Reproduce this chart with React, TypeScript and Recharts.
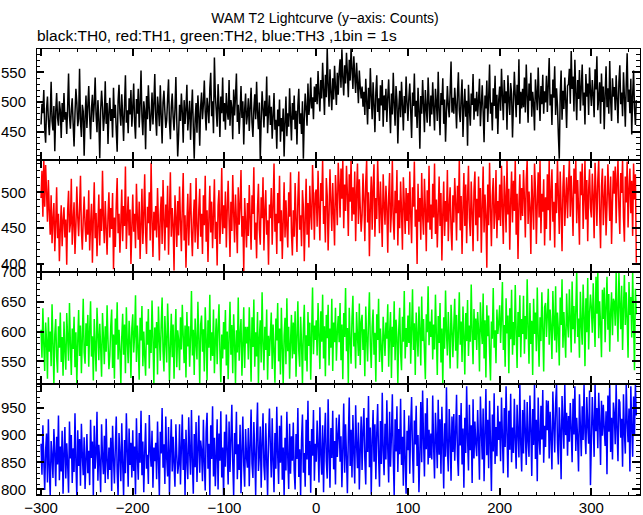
import { LineChart, Line, XAxis, YAxis } from 'recharts';

// 1 bin = 1 s, first bin at t = -300 s
const START_TIME = -300;

// TH0 (black), counts per bin
const TH0 = [
  462, 497, 481, 520, 455, 431, 488, 509, 470, 444, 479, 534, 468, 452, 493, 417, 484, 515, 473, 460, 501, 486, 439, 498, 466,
  515, 470, 483, 446, 492, 548, 476, 455, 487, 506, 463, 425, 480, 522, 499, 459, 472, 556, 467, 441, 495, 484, 409, 474, 511,
  456, 493, 527, 475, 437, 489, 512, 466, 496, 541, 478, 449, 503, 470, 405, 486, 519, 492, 451, 475, 535, 463, 498, 429, 483,
  507, 468, 488, 440, 524, 473, 495, 452, 416, 501, 529, 481, 460, 513, 476, 434, 494, 545, 465, 486, 447, 506, 479, 520, 458,
  490, 531, 466, 438, 505, 480, 522, 457, 495, 553, 474, 444, 501, 485, 420, 510, 471, 528, 489, 451, 478, 516, 462, 497, 547,
  473, 443, 509, 490, 459, 528, 477, 430, 499, 519, 484, 456, 469, 506, 538, 465, 437, 492, 514, 475, 452, 487, 542, 467, 408,
  445, 495, 468, 514, 483, 431, 503, 463, 488, 529, 452, 477, 502, 436, 484, 521, 458, 404, 471, 498, 448, 511, 480, 426, 492,
  516, 471, 496, 536, 482, 452, 507, 490, 464, 522, 549, 476, 501, 447, 575, 512, 485, 458, 530, 493, 441, 509, 481, 541, 467,
  498, 453, 515, 484, 470, 537, 460, 503, 490, 437, 521, 477, 509, 548, 466, 495, 446, 482, 527, 473, 501, 428, 487, 514, 462,
  478, 506, 451, 492, 524, 465, 441, 488, 513, 471, 534, 482, 454, 499, 403, 469, 518, 489, 457, 502, 476, 543, 447, 485, 511,
  461, 492, 438, 477, 515, 453, 470, 421, 487, 459, 504, 433, 473, 450, 489, 408, 466, 509, 442, 481, 458, 523, 475, 435, 498,
  470, 511, 454, 485, 428, 494, 522, 463, 481, 446, 501, 404, 474, 514, 487, 460, 531, 478, 497, 541, 489, 508, 471, 526, 500,
  530, 496, 552, 513, 484, 537, 506, 566, 521, 478, 546, 508, 591, 527, 492, 555, 516, 486, 540, 504, 561, 523, 495, 549, 512,
  550, 572, 524, 589, 541, 511, 562, 531, 583, 549, 508, 571, 536, 591, 556, 522, 577, 544, 515, 566, 533, 498, 553, 525, 506,
  526, 492, 517, 478, 539, 501, 462, 524, 488, 557, 509, 471, 533, 496, 449, 516, 545, 483, 506, 468, 528, 494, 537, 458, 511,
  486, 522, 466, 508, 538, 490, 447, 514, 479, 549, 497, 460, 527, 503, 430, 489, 519, 474, 534, 495, 452, 510, 481, 543, 499,
  468, 507, 531, 485, 439, 516, 493, 548, 475, 502, 456, 524, 488, 421, 510, 480, 537, 496, 449, 520, 489, 465, 541, 500, 459,
  511, 479, 533, 491, 452, 522, 499, 468, 551, 486, 444, 515, 495, 540, 463, 504, 433, 484, 527, 494, 474, 517, 568, 482, 507,
  480, 524, 497, 455, 513, 550, 485, 466, 507, 538, 441, 492, 522, 475, 502, 426, 529, 488, 460, 514, 495, 547, 470, 506, 484,
  517, 476, 503, 539, 459, 494, 528, 484, 432, 511, 489, 536, 466, 506, 563, 480, 499, 452, 523, 493, 544, 472, 512, 446, 504,
  526, 485, 556, 510, 469, 537, 498, 518, 453, 545, 504, 478, 532, 514, 440, 496, 551, 511, 474, 529, 495, 572, 463, 517, 489,
  522, 491, 541, 482, 563, 510, 465, 531, 502, 549, 475, 517, 497, 452, 538, 513, 486, 558, 507, 468, 527, 496, 546, 480, 518,
  499, 544, 483, 529, 574, 494, 513, 461, 538, 507, 560, 478, 523, 495, 445, 404, 511, 553, 470, 519, 488, 541, 503, 456, 527,
  530, 556, 497, 586, 522, 543, 484, 571, 515, 469, 537, 505, 554, 485, 524, 563, 494, 516, 462, 547, 509, 531, 478, 558, 518,
  493, 537, 513, 474, 555, 521, 577, 486, 507, 533, 463, 548, 500, 526, 454, 512, 560, 491, 523, 480, 569, 503, 468, 540, 509,
  525, 486, 545, 505, 464, 533, 562, 496, 516, 476, 550, 509, 458, 529, 582, 500, 521, 481, 539, 445, 512, 553, 489, 461, 503,
];

// TH1 (red)
const TH1 = [
  492, 530, 466, 545, 480, 538, 501, 459, 517, 474, 441, 496, 429, 463, 485, 418, 457, 507, 436, 470, 404, 449, 482, 425, 461,
  479, 437, 462, 399, 474, 502, 444, 456, 519, 427, 460, 486, 414, 452, 508, 466, 439, 478, 523, 447, 420, 463, 494, 455, 431,
  476, 441, 503, 419, 455, 484, 402, 464, 514, 436, 471, 411, 454, 497, 426, 477, 446, 530, 462, 429, 488, 451, 413, 467, 500,
  437, 478, 449, 499, 393, 465, 424, 484, 520, 443, 470, 416, 458, 504, 432, 481, 453, 536, 421, 463, 494, 440, 476, 400, 452,
  497, 445, 470, 422, 512, 464, 434, 487, 407, 455, 505, 428, 468, 525, 443, 414, 480, 457, 500, 433, 541, 461, 410, 473, 447,
  481, 437, 506, 457, 405, 469, 494, 428, 517, 462, 419, 483, 451, 509, 413, 472, 528, 438, 478, 455, 391, 496, 466, 424, 488,
  440, 508, 461, 418, 479, 527, 433, 468, 395, 456, 498, 426, 472, 513, 445, 411, 462, 490, 430, 520, 452, 421, 475, 505, 438,
  470, 414, 496, 454, 523, 431, 475, 403, 463, 509, 444, 487, 422, 468, 518, 435, 459, 398, 481, 503, 428, 464, 534, 442, 482,
  450, 501, 423, 476, 516, 461, 410, 487, 446, 524, 471, 430, 497, 460, 415, 507, 455, 480, 531, 438, 467, 390, 492, 458, 423,
  485, 439, 510, 465, 420, 496, 470, 535, 434, 458, 408, 478, 512, 448, 427, 493, 464, 521, 419, 474, 503, 441, 461, 399, 483,
  464, 506, 427, 481, 540, 445, 470, 414, 499, 457, 523, 432, 475, 407, 460, 514, 437, 489, 452, 423, 500, 466, 528, 444, 412,
  475, 438, 513, 462, 417, 490, 529, 448, 468, 425, 503, 480, 404, 461, 519, 441, 485, 423, 509, 470, 448, 538, 491, 434, 499,
  504, 452, 530, 478, 433, 513, 488, 545, 456, 481, 430, 520, 496, 419, 471, 532, 485, 446, 513, 470, 426, 524, 492, 454, 541,
  511, 465, 533, 491, 545, 450, 511, 474, 537, 498, 439, 525, 487, 545, 460, 507, 469, 529, 432, 499, 540, 456, 518, 479, 445,
  468, 526, 490, 432, 514, 545, 458, 500, 411, 481, 522, 448, 507, 539, 438, 492, 463, 545, 494, 443, 515, 473, 424, 525, 483,
  455, 509, 479, 416, 495, 527, 444, 473, 545, 462, 434, 502, 471, 531, 426, 489, 450, 515, 474, 420, 521, 485, 442, 506, 460,
  499, 441, 529, 470, 429, 507, 480, 543, 452, 476, 400, 512, 459, 492, 434, 527, 468, 441, 519, 477, 418, 503, 458, 537, 448,
  483, 435, 512, 465, 540, 442, 490, 423, 471, 522, 453, 499, 405, 470, 515, 439, 488, 459, 531, 432, 480, 507, 449, 419, 496,
  458, 520, 485, 433, 509, 471, 545, 447, 495, 414, 478, 527, 453, 511, 429, 491, 537, 464, 439, 515, 473, 418, 502, 529, 454,
  491, 432, 522, 465, 506, 416, 481, 536, 444, 497, 468, 395, 511, 454, 541, 477, 425, 495, 520, 449, 473, 531, 436, 488, 461,
  511, 453, 537, 479, 428, 523, 491, 444, 545, 469, 505, 420, 486, 529, 458, 516, 474, 545, 441, 498, 407, 482, 525, 461, 506,
  467, 531, 492, 437, 518, 545, 456, 501, 478, 414, 524, 485, 448, 540, 506, 428, 485, 528, 465, 545, 443, 498, 473, 518, 426,
  493, 449, 525, 475, 545, 433, 501, 532, 459, 487, 423, 513, 471, 545, 495, 442, 529, 479, 418, 507, 538, 453, 490, 521, 464,
  509, 545, 466, 523, 489, 439, 533, 498, 545, 457, 517, 478, 427, 529, 496, 540, 449, 490, 545, 462, 517, 432, 503, 532, 478,
  465, 526, 494, 436, 541, 501, 453, 517, 545, 473, 422, 508, 533, 454, 489, 523, 440, 480, 539, 497, 460, 522, 428, 486, 530,
  498, 536, 457, 516, 545, 478, 442, 527, 499, 545, 465, 431, 522, 486, 543, 451, 504, 533, 471, 516, 439, 540, 490, 525, 402,
];

// TH2 (green)
const TH2 = [
  603, 556, 639, 578, 534, 615, 586, 521, 624, 566, 600, 542, 646, 581, 512, 595, 621, 558, 531, 609, 573, 632, 549, 591, 526,
  617, 569, 536, 631, 590, 551, 648, 578, 527, 605, 571, 625, 540, 599, 512, 582, 636, 559, 610, 530, 588, 655, 565, 546, 614,
  576, 628, 541, 602, 651, 558, 592, 518, 621, 575, 533, 640, 598, 552, 613, 573, 524, 631, 591, 545, 609, 566, 644, 585, 537,
  560, 609, 637, 539, 595, 521, 622, 578, 649, 553, 603, 570, 512, 591, 630, 561, 612, 530, 641, 582, 547, 618, 587, 522, 606,
  629, 565, 593, 661, 549, 610, 574, 519, 623, 585, 643, 542, 600, 560, 526, 617, 578, 638, 538, 603, 564, 652, 589, 512, 607,
  572, 616, 528, 642, 589, 551, 612, 657, 567, 533, 626, 583, 548, 647, 597, 517, 576, 630, 557, 612, 521, 591, 638, 540, 602,
  585, 535, 624, 570, 645, 593, 547, 610, 523, 633, 575, 609, 541, 590, 668, 560, 603, 527, 622, 581, 553, 650, 589, 512, 612,
  627, 566, 604, 533, 641, 588, 518, 619, 573, 662, 551, 599, 559, 637, 530, 584, 622, 545, 606, 646, 568, 515, 595, 555, 616,
  570, 636, 543, 600, 520, 591, 650, 561, 611, 530, 629, 583, 512, 602, 565, 657, 551, 594, 621, 526, 578, 641, 539, 608, 580,
  608, 553, 641, 587, 516, 624, 574, 654, 541, 599, 558, 633, 512, 590, 619, 548, 666, 581, 535, 608, 569, 637, 519, 593, 559,
  594, 632, 537, 612, 567, 514, 622, 585, 648, 550, 605, 528, 640, 574, 512, 593, 623, 545, 656, 567, 608, 521, 582, 628, 555,
  615, 562, 634, 524, 591, 651, 567, 541, 625, 581, 512, 604, 645, 551, 594, 533, 633, 576, 615, 519, 598, 674, 562, 610, 586,
  619, 560, 648, 594, 537, 634, 583, 662, 555, 609, 525, 628, 589, 645, 543, 605, 573, 655, 534, 615, 582, 640, 551, 599, 626,
  582, 648, 552, 612, 520, 631, 591, 673, 567, 606, 512, 640, 586, 546, 622, 660, 575, 598, 538, 633, 592, 559, 647, 544, 616,
  628, 569, 604, 525, 642, 589, 550, 616, 666, 578, 539, 608, 637, 561, 598, 516, 629, 586, 655, 549, 605, 571, 532, 625, 593,
  559, 615, 588, 646, 541, 597, 633, 522, 608, 574, 651, 552, 620, 591, 512, 604, 640, 564, 535, 625, 583, 668, 555, 606, 574,
  627, 581, 649, 546, 603, 671, 569, 614, 527, 632, 593, 558, 642, 601, 543, 659, 584, 621, 566, 520, 629, 599, 676, 577, 617,
  591, 637, 553, 612, 570, 662, 595, 527, 626, 581, 648, 548, 605, 512, 624, 571, 669, 598, 560, 633, 589, 538, 645, 604, 557,
  609, 655, 568, 628, 538, 601, 666, 578, 617, 549, 642, 592, 528, 631, 584, 653, 559, 610, 583, 679, 599, 545, 638, 586, 622,
  569, 633, 603, 533, 649, 607, 579, 664, 555, 619, 523, 644, 592, 627, 564, 518, 617, 588, 673, 573, 602, 547, 637, 596, 614,
  644, 581, 624, 683, 569, 611, 541, 656, 597, 627, 530, 639, 587, 670, 561, 616, 577, 678, 602, 539, 633, 591, 661, 557, 621,
  596, 660, 563, 626, 587, 688, 607, 546, 648, 579, 618, 527, 655, 596, 632, 567, 674, 592, 541, 624, 584, 666, 605, 533, 641,
  648, 591, 629, 672, 578, 637, 607, 554, 668, 615, 585, 676, 565, 632, 603, 543, 657, 611, 688, 573, 633, 595, 556, 664, 614,
  590, 671, 620, 565, 684, 604, 643, 580, 636, 700, 591, 622, 556, 667, 611, 578, 679, 629, 542, 656, 599, 690, 570, 630, 662,
  639, 598, 681, 622, 574, 692, 630, 700, 589, 651, 612, 557, 670, 621, 674, 582, 641, 692, 603, 663, 566, 633, 666, 594, 655,
  650, 610, 700, 632, 583, 700, 646, 604, 677, 569, 640, 695, 611, 666, 622, 556, 683, 628, 658, 590, 700, 618, 535, 672, 629,
];

// TH3 (blue)
const TH3 = [
  884, 827, 918, 853, 799, 872, 903, 813, 929, 840, 788, 889, 862, 821, 911, 867, 806, 897, 846, 936, 817, 879, 833, 908, 792,
  866, 915, 820, 885, 847, 794, 925, 857, 900, 812, 876, 832, 940, 850, 788, 909, 843, 893, 807, 921, 863, 826, 896, 801, 855,
  902, 830, 871, 808, 928, 858, 888, 790, 917, 838, 866, 943, 816, 882, 849, 795, 920, 861, 828, 899, 812, 930, 853, 819, 877,
  836, 895, 797, 917, 857, 811, 880, 934, 832, 788, 904, 864, 815, 922, 848, 788, 891, 830, 940, 871, 805, 912, 845, 886, 822,
  909, 834, 879, 791, 931, 861, 818, 904, 849, 945, 826, 888, 795, 868, 922, 838, 864, 810, 937, 873, 842, 908, 803, 877, 852,
  886, 819, 925, 855, 788, 906, 866, 950, 840, 883, 810, 934, 858, 824, 915, 791, 872, 929, 833, 897, 847, 805, 920, 864, 829,
  846, 920, 809, 877, 938, 836, 893, 788, 910, 854, 819, 933, 869, 827, 946, 851, 792, 902, 841, 924, 814, 875, 936, 831, 890,
  872, 815, 928, 849, 798, 907, 941, 838, 884, 790, 918, 856, 953, 824, 895, 806, 862, 929, 800, 903, 853, 944, 822, 877, 788,
  906, 842, 938, 871, 809, 925, 832, 891, 956, 850, 788, 904, 865, 943, 819, 883, 836, 919, 793, 870, 934, 845, 805, 911, 860,
  840, 913, 806, 879, 947, 847, 821, 924, 868, 790, 901, 960, 834, 862, 916, 803, 886, 940, 843, 817, 922, 856, 788, 892, 949,
  880, 822, 931, 852, 795, 904, 838, 952, 864, 810, 917, 849, 936, 818, 877, 788, 895, 835, 943, 858, 801, 921, 829, 898, 853,
  923, 834, 800, 902, 856, 950, 823, 874, 790, 892, 938, 831, 867, 805, 928, 855, 963, 826, 889, 794, 911, 862, 946, 816, 884,
  851, 927, 880, 813, 951, 864, 827, 918, 795, 893, 941, 852, 820, 966, 870, 803, 913, 858, 945, 837, 889, 809, 932, 860, 900,
  938, 851, 898, 804, 876, 958, 831, 920, 862, 793, 896, 969, 843, 910, 822, 937, 867, 811, 955, 882, 839, 923, 800, 872, 934,
  836, 908, 950, 856, 809, 932, 869, 972, 841, 914, 791, 888, 946, 851, 920, 819, 903, 957, 861, 805, 926, 847, 978, 871, 826,
  921, 855, 964, 875, 813, 943, 842, 899, 975, 859, 790, 929, 870, 953, 832, 911, 865, 967, 845, 897, 807, 946, 856, 792, 908,
  872, 936, 829, 917, 970, 869, 812, 927, 883, 954, 843, 900, 795, 867, 961, 850, 982, 893, 824, 940, 874, 968, 846, 910, 858,
  903, 855, 973, 880, 820, 941, 895, 839, 965, 864, 929, 829, 952, 886, 802, 922, 860, 988, 876, 833, 948, 899, 816, 934, 869,
  939, 853, 905, 974, 863, 825, 937, 881, 959, 846, 912, 803, 932, 867, 990, 894, 835, 956, 872, 918, 812, 966, 857, 925, 884,
  861, 946, 889, 818, 971, 908, 855, 949, 815, 902, 985, 863, 928, 839, 963, 886, 797, 938, 870, 977, 847, 915, 861, 954, 891,
  925, 852, 969, 897, 830, 950, 878, 990, 901, 822, 945, 873, 976, 850, 914, 867, 967, 891, 838, 956, 903, 859, 994, 883, 833,
  946, 866, 965, 905, 845, 961, 889, 860, 973, 912, 825, 948, 882, 994, 856, 928, 815, 969, 894, 864, 954, 892, 983, 849, 917,
  878, 964, 909, 963, 857, 943, 895, 837, 980, 920, 868, 958, 994, 886, 846, 951, 908, 819, 972, 924, 875, 994, 900, 941, 862,
  935, 888, 959, 911, 850, 967, 901, 990, 871, 932, 894, 833, 975, 915, 861, 953, 891, 994, 905, 865, 970, 918, 884, 982, 808,
  890, 970, 920, 860, 994, 907, 950, 876, 978, 923, 845, 963, 899, 956, 912, 880, 944, 828, 973, 906, 994, 869, 932, 855, 960,
  939, 883, 994, 909, 852, 966, 960, 895, 930, 842, 975, 904, 866, 994, 925, 887, 949, 833, 990, 912, 860, 971, 899, 994, 936,
];

const X_TICKS = [
  -300, -280, -260, -240, -220, -200, -180, -160, -140, -120, -100, -80, -60, -40, -20,
  0, 20, 40, 60, 80, 100, 120, 140, 160, 180, 200, 220, 240, 260, 280, 300, 320, 340,
];
const Y_TICKS_TH0 = [410, 420, 430, 440, 450, 460, 470, 480, 490, 500, 510, 520, 530, 540, 550, 560, 570, 580, 590];
const Y_TICKS_TH1 = [390, 400, 410, 420, 430, 440, 450, 460, 470, 480, 490, 500, 510, 520, 530, 540];
const Y_TICKS_TH2 = [520, 530, 540, 550, 560, 570, 580, 590, 600, 610, 620, 630, 640, 650, 660, 670, 680, 690, 700];
const Y_TICKS_TH3 = [790, 800, 810, 820, 830, 840, 850, 860, 870, 880, 890, 900, 910, 920, 930, 940, 950, 960, 970, 980, 990];

const X_DOMAIN: [number, number] = [-305.5, 353];
const FONT = '"Liberation Sans", Arial, Helvetica, sans-serif';
const PLOT_TOP = 48;
const PLOT_LEFT = 36;
const PLOT_W = 605;
const PANEL_H = 112;
const PAD = 10;

const fmt = (v: number) => (v < 0 ? '\u2212' + Math.abs(v) : String(v));

// x ticks point inward (dir -1 = up from the bottom edge, +1 = down from the top edge)
const XTick = (props: any) => {
  const { x, y, payload, dir, label } = props;
  const major = payload.value % 100 === 0;
  const len = major ? 8 : 4;
  return (
    <g>
      <line x1={ x } y1={ y } x2={ x } y2={ y + dir * len } stroke="#000" strokeWidth={ major ? 2 : 1 } shapeRendering="crispEdges" />
      { label && major && (
        <text x={ x } y={ y + 17 } textAnchor="middle" fontFamily={ FONT } fontSize={ 15 } fill="#000">
          { fmt(payload.value) }
        </text>
      ) }
    </g>
  );
};

const YTick = (props: any) => {
  const { x, y, payload, dir, label } = props;
  const major = payload.value % 50 === 0;
  const len = major ? 8 : 4;
  return (
    <g>
      <line x1={ x } y1={ y } x2={ x + dir * len } y2={ y } stroke="#000" strokeWidth={ major ? 2 : 1 } shapeRendering="crispEdges" />
      { label && major && (
        <text x={ x - 10 } y={ y } dy="0.35em" textAnchor="end" fontFamily={ FONT } fontSize={ 15 } fill="#000">
          { fmt(payload.value) }
        </text>
      ) }
    </g>
  );
};

const Panel = ({
  values,
  color,
  domain,
  ticks,
  index,
  last,
}: {
  values: number[];
  color: string;
  domain: [number, number];
  ticks: number[];
  index: number;
  last: boolean;
}) => {
  const data = values.map((v, i) => ({ t: START_TIME + i, v }));
  const bottomH = last ? 19 : 1;
  return (
    <div style={ { position: 'absolute', left: 0, top: PLOT_TOP + index * PANEL_H - PAD } }>
      <LineChart
        width={ 643 }
        height={ PAD + PANEL_H + bottomH }
        data={ data }
        margin={ { top: PAD - 1, right: 2, bottom: 0, left: 0 } }
      >
        <XAxis
          xAxisId="b"
          dataKey="t"
          type="number"
          domain={ X_DOMAIN }
          ticks={ X_TICKS }
          interval={ 0 }
          height={ bottomH }
          tickSize={ 0 }
          tickMargin={ 0 }
          tickLine={ false }
          axisLine={ false }
          tick={ (p: any) => <XTick { ...p } dir={ -1 } label={ last } /> }
          allowDataOverflow
        />
        <XAxis
          xAxisId="t"
          orientation="top"
          dataKey="t"
          type="number"
          domain={ X_DOMAIN }
          ticks={ X_TICKS }
          interval={ 0 }
          height={ 1 }
          tickSize={ 0 }
          tickMargin={ 0 }
          tickLine={ false }
          axisLine={ false }
          tick={ (p: any) => <XTick { ...p } dir={ 1 } label={ false } /> }
          allowDataOverflow
        />
        <YAxis
          yAxisId="l"
          type="number"
          domain={ domain }
          ticks={ ticks }
          interval={ 0 }
          width={ PLOT_LEFT }
          tickSize={ 0 }
          tickMargin={ 0 }
          tickLine={ false }
          axisLine={ false }
          tick={ (p: any) => <YTick { ...p } dir={ 1 } label /> }
          allowDataOverflow
        />
        <YAxis
          yAxisId="r"
          orientation="right"
          type="number"
          domain={ domain }
          ticks={ ticks }
          interval={ 0 }
          width={ 1 }
          tickSize={ 0 }
          tickMargin={ 0 }
          tickLine={ false }
          axisLine={ false }
          tick={ (p: any) => <YTick { ...p } dir={ -1 } label={ false } /> }
          allowDataOverflow
        />
        <Line
          xAxisId="b"
          yAxisId="l"
          dataKey="v"
          type="linear"
          stroke={ color }
          strokeWidth={ 1.5 }
          dot={ false }
          isAnimationActive={ false }
        />
      </LineChart>
    </div>
  );
};

const PANELS = [
  { values: TH0, color: '#000000', domain: [402, 591] as [number, number], ticks: Y_TICKS_TH0 },
  { values: TH1, color: '#ff0000', domain: [389, 545] as [number, number], ticks: Y_TICKS_TH1 },
  { values: TH2, color: '#00ff00', domain: [512, 700] as [number, number], ticks: Y_TICKS_TH2 },
  { values: TH3, color: '#0000ff', domain: [788, 994] as [number, number], ticks: Y_TICKS_TH3 },
];

export default function App() {
  return (
    <div style={ { position: 'absolute', left: 0, top: 0, width: 643, height: 515, background: '#fff', overflow: 'hidden' } }>
      <svg width={ 643 } height={ 48 } style={ { position: 'absolute', left: 0, top: 0 } }>
        <text x={ 325 } y={ 23 } textAnchor="middle" fontFamily={ FONT } fontSize={ 14 } fill="#000">
          WAM T2 Lightcurve (y−axis: Counts)
        </text>
        <text x={ 37 } y={ 41 } fontFamily={ FONT } fontSize={ 15.5 } fill="#000">
          black:TH0, red:TH1, green:TH2, blue:TH3 ,1bin = 1s
        </text>
      </svg>
      { PANELS.map((p, i) => (
        <Panel key={ i } { ...p } index={ i } last={ i === PANELS.length - 1 } />
      )) }
      { PANELS.map((p, i) => (
        <div
          key={ 'frame' + i }
          style={ {
            position: 'absolute',
            left: PLOT_LEFT,
            top: PLOT_TOP + i * PANEL_H,
            width: PLOT_W,
            height: PANEL_H,
            boxSizing: 'border-box',
            border: '1px solid #000',
            pointerEvents: 'none',
          } }
        />
      )) }
    </div>
  );
}
